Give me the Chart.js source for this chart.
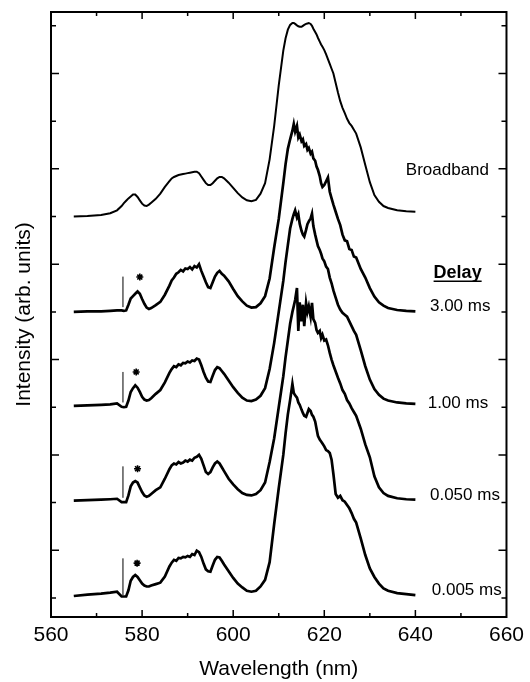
<!DOCTYPE html>
<html>
<head>
<meta charset="utf-8">
<script src="https://cdn.jsdelivr.net/npm/chart.js@4.4.1/dist/chart.umd.min.js"></script>
<style>
  body { margin: 0; background: #fff; }
  canvas { display: block; }
</style>
</head>
<body>
<canvas id="spectraChart" width="530" height="682"></canvas>
<script>
// wavelength grid (nm), shared by all spectra
const wavelength = [
    565, 568, 571, 573, 574.5, 575.5, 576, 576.5, 577, 577.5,
    578, 578.5, 579, 579.5, 580, 580.5, 581, 581.5, 582, 583,
    584, 585, 586, 586.5, 587, 587.5, 588, 588.5, 589, 589.5,
    590, 590.5, 591, 591.5, 592, 592.5, 593, 593.5, 594, 594.5,
    595, 595.5, 596, 596.5, 597, 597.5, 598, 599, 600, 601,
    602, 603, 604, 605, 606, 607, 608, 609, 610, 611,
    611.5, 612, 612.5, 613, 613.3, 613.6, 614, 614.3, 614.6, 615,
    615.3, 615.6, 616, 616.3, 616.6, 617, 617.3, 617.6, 618, 618.3,
    618.6, 619, 619.3, 619.6, 620, 620.4, 620.8, 621.2, 621.6, 622,
    622.5, 623, 623.5, 624, 624.5, 625, 625.5, 626, 626.5, 627,
    628, 629, 630, 631, 632, 633, 634, 636, 638, 640,
];

// intensities above each trace's own baseline (arb. units)
const broadband = [
    0.00, 0.01, 0.03, 0.07, 0.13, 0.22, 0.28, 0.33, 0.38, 0.42,
    0.46, 0.46, 0.41, 0.34, 0.27, 0.23, 0.22, 0.25, 0.29, 0.37,
    0.48, 0.62, 0.74, 0.80, 0.83, 0.85, 0.87, 0.88, 0.89, 0.90,
    0.91, 0.92, 0.93, 0.94, 0.94, 0.91, 0.84, 0.77, 0.70, 0.66,
    0.66, 0.70, 0.75, 0.80, 0.83, 0.83, 0.80, 0.71, 0.60, 0.49,
    0.40, 0.34, 0.32, 0.35, 0.48, 0.70, 1.20, 1.90, 2.75, 3.48,
    3.74, 3.92, 4.02, 4.06, 4.06, 4.04, 4.01, 3.99, 3.98, 3.98,
    4.00, 4.02, 4.04, 4.05, 4.06, 4.04, 4.00, 3.94, 3.87, 3.82,
    3.75, 3.67, 3.61, 3.56, 3.49, 3.40, 3.30, 3.20, 3.10, 3.00,
    2.80, 2.60, 2.42, 2.28, 2.17, 2.05, 1.96, 1.90, 1.82, 1.74,
    1.45, 1.08, 0.72, 0.45, 0.31, 0.22, 0.18, 0.13, 0.11, 0.10,
];
const delay300 = [
    0.00, 0.01, 0.01, 0.02, 0.03, 0.03, 0.02, 0.03, 0.15, 0.28,
    0.33, 0.38, 0.43, 0.38, 0.27, 0.17, 0.09, 0.06, 0.08, 0.14,
    0.21, 0.36, 0.55, 0.66, 0.72, 0.80, 0.83, 0.88, 0.85, 0.91,
    0.90, 0.94, 0.89, 0.96, 0.93, 1.00, 0.86, 0.74, 0.62, 0.52,
    0.50, 0.62, 0.74, 0.82, 0.86, 0.80, 0.76, 0.64, 0.48, 0.33,
    0.22, 0.13, 0.09, 0.10, 0.18, 0.33, 0.70, 1.35, 1.95, 2.70,
    3.10, 3.42, 3.62, 3.80, 3.94, 3.78, 3.90, 3.66, 3.72, 3.58,
    3.62, 3.48, 3.52, 3.40, 3.44, 3.32, 3.36, 3.22, 3.17, 3.05,
    2.98, 2.85, 2.70, 2.62, 2.66, 2.74, 2.82, 2.52, 2.38, 2.25,
    2.10, 1.95, 1.82, 1.62, 1.50, 1.48, 1.32, 1.30, 1.16, 1.14,
    0.90, 0.72, 0.50, 0.32, 0.20, 0.13, 0.08, 0.04, 0.02, 0.01,
];
const delay100 = [
    0.03, 0.04, 0.05, 0.06, 0.08, 0.01, 0.00, 0.01, 0.14, 0.32,
    0.40, 0.46, 0.41, 0.32, 0.22, 0.16, 0.14, 0.15, 0.19, 0.28,
    0.36, 0.52, 0.72, 0.80, 0.86, 0.84, 0.90, 0.88, 0.93, 0.92,
    0.96, 0.94, 0.98, 0.97, 1.02, 1.00, 0.88, 0.74, 0.62, 0.54,
    0.53, 0.66, 0.78, 0.84, 0.82, 0.76, 0.70, 0.56, 0.42, 0.30,
    0.20, 0.14, 0.13, 0.16, 0.24, 0.40, 0.80, 1.35, 2.00, 2.65,
    3.05, 3.40, 3.75, 3.95, 4.05, 4.13, 3.98, 4.05, 3.85, 3.70,
    3.62, 3.58, 3.72, 3.84, 3.90, 3.96, 4.06, 3.80, 3.62, 3.50,
    3.38, 3.30, 3.22, 3.12, 3.06, 2.95, 2.90, 2.72, 2.60, 2.45,
    2.30, 2.15, 2.05, 1.98, 1.94, 1.90, 1.80, 1.70, 1.60, 1.52,
    1.20, 0.86, 0.58, 0.38, 0.26, 0.18, 0.14, 0.10, 0.08, 0.07,
];
const delay050 = [
    0.04, 0.05, 0.06, 0.07, 0.08, 0.01, 0.01, 0.01, 0.15, 0.34,
    0.42, 0.45, 0.42, 0.32, 0.22, 0.15, 0.12, 0.14, 0.18, 0.26,
    0.32, 0.50, 0.70, 0.78, 0.82, 0.80, 0.85, 0.82, 0.84, 0.88,
    0.86, 0.90, 0.88, 0.94, 0.96, 1.00, 0.92, 0.78, 0.64, 0.60,
    0.64, 0.74, 0.82, 0.86, 0.82, 0.74, 0.66, 0.50, 0.38, 0.28,
    0.20, 0.16, 0.15, 0.18, 0.26, 0.42, 0.85, 1.35, 2.00, 2.65,
    3.05, 3.40, 3.75, 4.00, 4.12, 4.25, 4.50, 3.60, 4.20, 3.80,
    4.15, 3.70, 4.19, 4.00, 4.12, 3.90, 4.19, 3.85, 3.77, 3.62,
    3.56, 3.60, 3.45, 3.52, 3.40, 3.42, 3.30, 3.14, 3.00, 2.88,
    2.75, 2.62, 2.50, 2.36, 2.28, 2.15, 2.08, 1.98, 1.90, 1.82,
    1.55, 1.22, 0.95, 0.55, 0.32, 0.20, 0.14, 0.09, 0.07, 0.06,
];
const delay005 = [
    0.04, 0.07, 0.09, 0.11, 0.13, 0.03, 0.03, 0.03, 0.16, 0.36,
    0.44, 0.48, 0.44, 0.37, 0.30, 0.26, 0.24, 0.24, 0.26, 0.29,
    0.32, 0.45, 0.66, 0.74, 0.80, 0.78, 0.84, 0.83, 0.86, 0.85,
    0.88, 0.86, 0.92, 0.90, 0.99, 0.96, 0.86, 0.72, 0.60, 0.56,
    0.55, 0.68, 0.80, 0.86, 0.85, 0.78, 0.70, 0.56, 0.42, 0.30,
    0.22, 0.15, 0.13, 0.15, 0.24, 0.38, 0.75, 1.55, 2.30, 3.00,
    3.45, 3.85, 4.15, 4.49, 4.30, 4.25, 4.20, 4.10, 4.05, 3.95,
    3.88, 3.82, 3.80, 3.88, 3.96, 3.92, 3.84, 3.80, 3.70, 3.55,
    3.40, 3.32, 3.28, 3.24, 3.18, 3.10, 3.08, 3.04, 2.90, 2.60,
    2.18, 2.10, 2.14, 2.05, 2.02, 1.95, 1.88, 1.78, 1.66, 1.58,
    1.25, 0.90, 0.62, 0.44, 0.30, 0.20, 0.15, 0.10, 0.08, 0.06,
];

const traces = [broadband, delay300, delay100, delay050, delay005];
const traceNames = ["Broadband", "3.00 ms", "1.00 ms", "0.050 ms", "0.005 ms"];
const baselines = [8, 6, 4, 2, 0];

// laser line marker and the starred peak, delay traces only
const markerNm = 575.8;
const markerLow = [0.10, 0.10, 0.10, 0.06];
const markerHigh = [0.74, 0.74, 0.76, 0.83];
const starNm = [579.5, 578.7, 579.0, 578.9];
const starLevel = [0.73, 0.74, 0.71, 0.73];

const FONT = "'Liberation Sans', Arial, sans-serif";

const datasets = traces.map((vals, i) => ({
    label: traceNames[i],
    data: wavelength.map((w, j) => ({ x: w, y: vals[j] + baselines[i] })),
    borderColor: "#000",
    borderWidth: i === 0 ? 2 : 2.7,
    pointRadius: 0,
    tension: 0,
}));

markerLow.forEach((lo, i) => {
    datasets.push({
        data: [
            { x: markerNm, y: baselines[i + 1] + lo },
            { x: markerNm, y: baselines[i + 1] + markerHigh[i] },
        ],
        borderColor: "#000",
        borderWidth: 1,
        pointRadius: 0,
    });
});

datasets.push({
    type: "scatter",
    data: starNm.map((w, i) => ({ x: w, y: baselines[i + 1] + starLevel[i] })),
    pointStyle: "star",
    pointRadius: 3.5,
    borderColor: "#000",
    borderWidth: 1.6,
});

// frame with inward ticks, plus the text beside the traces
const frame = {
    id: "frame",
    afterDraw(chart) {
        const { ctx, chartArea: a } = chart;
        const x = chart.scales.x;
        const y = chart.scales.y;
        ctx.save();
        ctx.strokeStyle = "#000";
        ctx.lineWidth = 2;
        ctx.strokeRect(a.left, a.top, a.right - a.left, a.bottom - a.top);

        ctx.lineWidth = 1.5;
        ctx.beginPath();
        for (let w = 570; w < 660; w += 10) {
            const px = x.getPixelForValue(w);
            const len = w % 20 === 0 ? 7 : 4;
            ctx.moveTo(px, a.bottom);
            ctx.lineTo(px, a.bottom - len);
            ctx.moveTo(px, a.top);
            ctx.lineTo(px, a.top + len);
        }
        for (let v = 0; v <= 12; v++) {
            const py = y.getPixelForValue(v);
            const len = v % 2 ? 8 : 5;
            ctx.moveTo(a.left, py);
            ctx.lineTo(a.left + len, py);
            ctx.moveTo(a.right, py);
            ctx.lineTo(a.right - len, py);
        }
        ctx.stroke();

        ctx.fillStyle = "#000";
        ctx.textBaseline = "middle";
        ctx.textAlign = "left";
        const notes = [
            ["Broadband", 637.9, 8.96, "17px"],
            ["Delay", 644.0, 6.81, "bold 18px"],
            ["3.00 ms", 643.2, 6.11, "17px"],
            ["1.00 ms", 642.7, 4.09, "17px"],
            ["0.050 ms", 643.2, 2.16, "17px"],
            ["0.005 ms", 643.6, 0.17, "17px"],
        ];
        notes.forEach(([text, w, v, f]) => {
            const px = x.getPixelForValue(w);
            const py = y.getPixelForValue(v);
            ctx.font = f + " " + FONT;
            ctx.fillText(text, px, py);
            if (text === "Delay") {
                const tw = ctx.measureText(text).width;
                ctx.lineWidth = 1.5;
                ctx.beginPath();
                ctx.moveTo(px, py + 8);
                ctx.lineTo(px + tw, py + 8);
                ctx.stroke();
            }
        });
        ctx.restore();
    },
};

new Chart(document.getElementById("spectraChart"), {
    type: "line",
    data: { datasets: datasets },
    options: {
        responsive: false,
        animation: false,
        devicePixelRatio: 1,
        layout: { padding: { left: 0, right: 22, top: 12, bottom: 0 } },
        plugins: {
            legend: { display: false },
            tooltip: { enabled: false },
        },
        scales: {
            x: {
                type: "linear",
                min: 560,
                max: 660,
                grid: { display: false, drawTicks: false },
                border: { display: false },
                ticks: {
                    stepSize: 20,
                    color: "#000",
                    padding: 6,
                    maxRotation: 0,
                    font: { size: 21, family: FONT },
                },
                title: {
                    display: true,
                    text: "Wavelength (nm)",
                    color: "#000",
                    font: { size: 21, family: FONT },
                    padding: { top: 0, bottom: 0 },
                },
                afterFit(scale) {
                    scale.height = 65;
                },
            },
            y: {
                type: "linear",
                min: -0.4,
                max: 12.29,
                grid: { display: false, drawTicks: false },
                border: { display: false },
                ticks: { display: false },
                title: {
                    display: true,
                    text: "Intensity (arb. units)",
                    color: "#000",
                    font: { size: 21, family: FONT },
                    padding: { top: 12, bottom: 0 },
                },
                afterFit(scale) {
                    scale.width = 51;
                },
            },
        },
    },
    plugins: [frame],
});
</script>
</body>
</html>
